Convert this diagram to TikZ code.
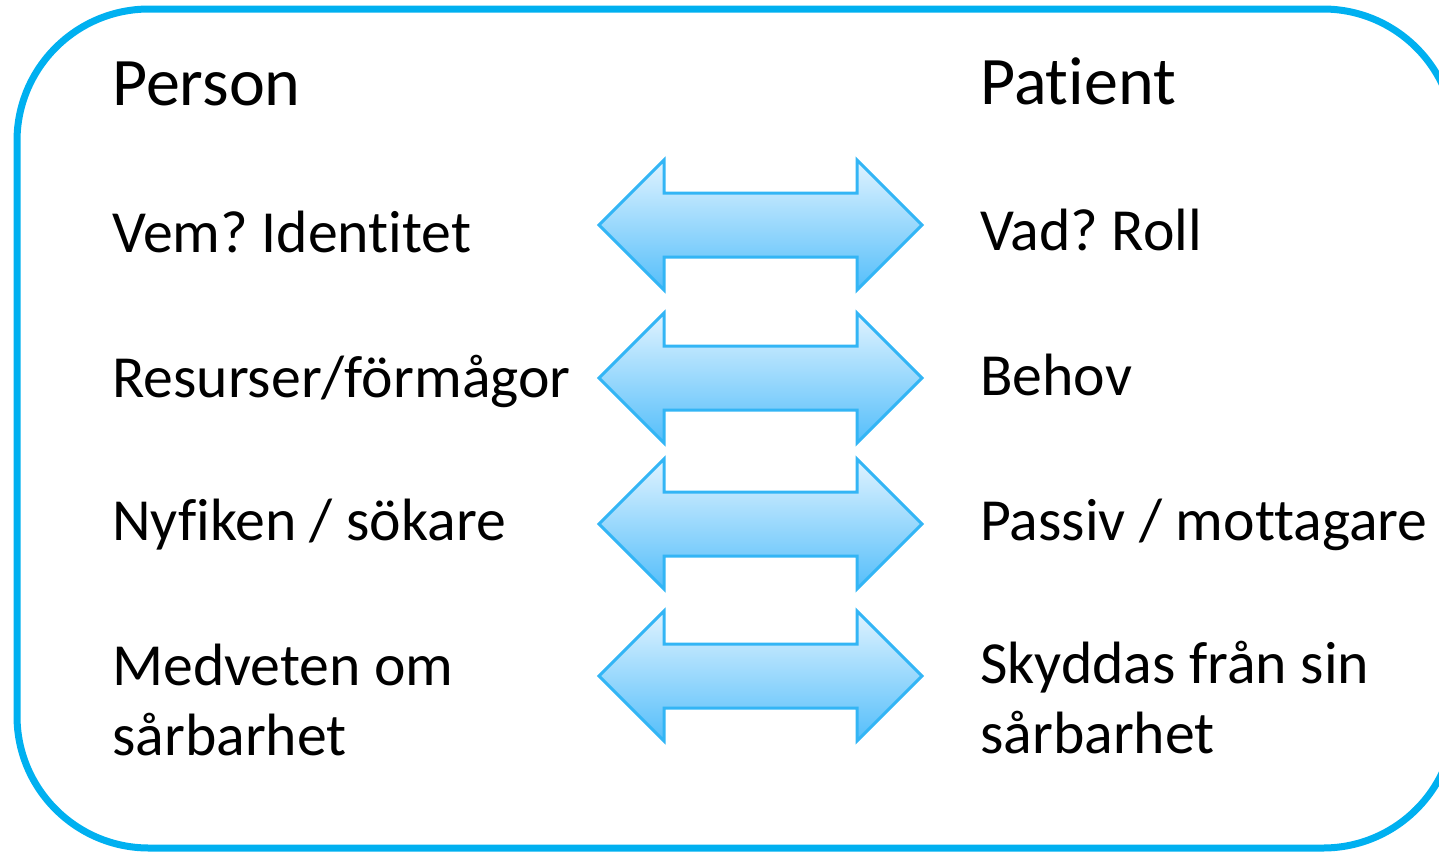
\documentclass[tikz,border=0pt]{standalone}
\usepackage{fontspec}
\setmainfont{Carlito}[Ligatures={NoCommon,NoRequired,NoContextual}]

\definecolor{framecol}{RGB}{0,176,240}
\definecolor{arrowline}{RGB}{51,181,245}
\definecolor{arrowtop}{RGB}{224,243,255}
\definecolor{arrowbot}{RGB}{84,190,250}

\tikzset{
  label text/.style={anchor=base west,inner sep=0pt,align=left,font=\fontsize{44.8}{52.5}\selectfont},
  head text/.style={label text,font=\fontsize{51}{60}\selectfont},
  dblarrow/.style={draw=arrowline,line width=2.25pt,line join=miter,top color=arrowtop,bottom color=arrowbot}
}

\begin{document}
\frenchspacing
\begin{tikzpicture}[x=0.75pt,y=0.75pt,yscale=-1,xscale=1]
\useasboundingbox (0,0) rectangle (1439,854);
\clip (0,0) rectangle (1439,854);

%Rounded Rect [id:frame] 
\draw [color=framecol, line width=5.25pt, rounded corners=99pt] (17,9) rectangle (1455,848);

%Shape: Double Arrows
\foreach \cy in {225,378,524,676}{
  \draw [dblarrow] (599,\cy) -- (664,\cy-65) -- (664,\cy-32) -- (857,\cy-32) -- (857,\cy-65) -- (922,\cy) -- (857,\cy+65) -- (857,\cy+32) -- (664,\cy+32) -- (664,\cy+65) -- cycle ;
}

% Text Node
\node (person) [head text] at (112,105) {Person};
% Text Node
\node (patient) [head text] at (980,104) {Patient};
% Text Node
\node (vem) [label text] at (112,252) {Vem? Identitet};
% Text Node
\node (vad) [label text] at (980,250) {Vad? Roll};
% Text Node
\node (resurser) [label text] at (112,397) {Resurser/förmågor};
% Text Node
\node (behov) [label text] at (980,395) {Behov};
% Text Node
\node (nyfiken) [label text] at (112,540) {Nyfiken / sökare};
% Text Node
\node (passiv) [label text] at (980,540) {Passiv / mottagare};
% Text Node
\node (medveten) [label text] at (112,755) {Medveten om\\sårbarhet};
% Text Node
\node (skyddas) [label text] at (980,753) {Skyddas från sin\\sårbarhet};

\end{tikzpicture}
\end{document}
